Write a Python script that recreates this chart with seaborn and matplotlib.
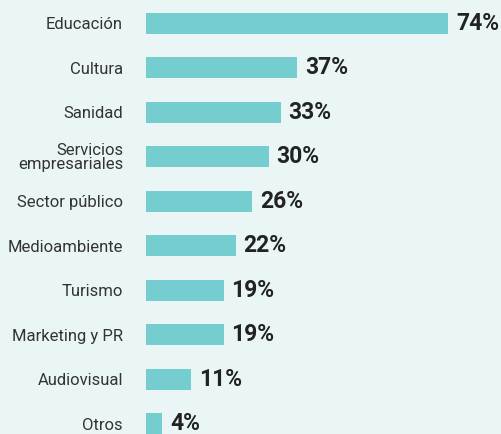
import matplotlib
matplotlib.use("Agg")
import matplotlib.pyplot as plt
import seaborn as sns
import pandas as pd

# data
sectors = [
    "Educación", "Cultura", "Sanidad", "Servicios\nempresariales",
    "Sector público", "Medioambiente", "Turismo", "Marketing y PR",
    "Audiovisual", "Otros",
]
shares = [74, 37, 33, 30, 26, 22, 19, 19, 11, 4]

BG = "#eaf6f5"
BAR = "#76cdd0"
TEXT = "#333333"

df = pd.DataFrame({"sector": sectors, "share": shares})

sns.set_style("white")
plt.rcParams["font.family"] = ["Roboto", "DejaVu Sans"]

fig = plt.figure(figsize=(5.02, 4.34), dpi=100, facecolor=BG)
ax = fig.add_axes([146 / 502, 0, 327 / 502, 1])
ax.set_facecolor(BG)

sns.barplot(data=df, x="share", y="sector", orient="h", color=BAR,
            width=0.47, saturation=1, linewidth=0, ax=ax)

ax.set_xlim(0, 80)
ax.set_ylim(9.227, -0.526)
ax.bar_label(ax.containers[0], fmt="%d%%", padding=5.5, fontsize=16.5,
             fontweight="bold", color="#222222", clip_on=False)

ax.set_xlabel("")
ax.set_ylabel("")
ax.set_xticks([])
ax.tick_params(axis="y", length=0, pad=16.5, labelsize=12, labelcolor=TEXT)
for lbl in ax.get_yticklabels():
    lbl.set_linespacing(0.85)
sns.despine(ax=ax, left=True, bottom=True)

fig.savefig("out.png", dpi=100, facecolor=BG)
